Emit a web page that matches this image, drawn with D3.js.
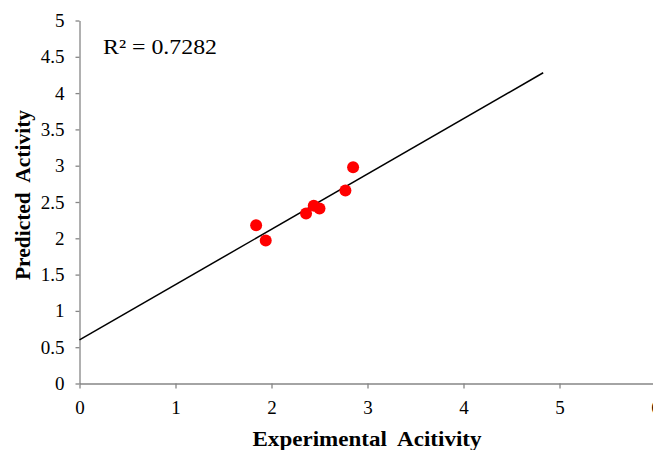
<!DOCTYPE html>
<html><head><meta charset="utf-8">
<script src="https://cdn.jsdelivr.net/npm/d3@7"></script>
<style>body{margin:0;background:#fff}svg{display:block}text{font-family:"Liberation Serif","Times New Roman",serif}</style>
</head><body><svg id="c" width="653" height="450"></svg>
<script>
const expX = [1.84, 1.94, 2.36, 2.44, 2.50, 2.77, 2.85];
const predY = [2.18, 1.97, 2.34, 2.45, 2.41, 2.66, 2.98];
const trendX = [0, 4.83];
const trendY = [0.6, 4.28];
const xTicks = [0, 1, 2, 3, 4, 5, 6];
const yTicks = [0, 0.5, 1, 1.5, 2, 2.5, 3, 3.5, 4, 4.5, 5];
const r2Label = "R² = 0.7282";

const svg = d3.select("#c");
const x = d3.scaleLinear().domain([0, 6]).range([79.5, 655.5]);
const y = d3.scaleLinear().domain([0, 5]).range([383.5, 20.5]);
const gray = "#868686";
const serif = "'Liberation Serif', 'Times New Roman', serif";

const xa = svg.append("g").attr("transform", "translate(0,383.5)")
  .call(d3.axisBottom(x).tickValues(xTicks).tickFormat(d3.format("d")).tickSize(5).tickSizeOuter(0));
const ya = svg.append("g").attr("transform", "translate(79.5,0)")
  .call(d3.axisLeft(y).tickValues(yTicks).tickFormat(d => String(d)).tickSize(4).tickSizeOuter(0).tickPadding(11));
[xa, ya].forEach(g => {
  g.attr("font-family", serif).attr("font-size", 19);
  g.select(".domain").attr("stroke", gray).attr("stroke-width", 1.3);
  g.selectAll(".tick line").attr("stroke", gray).attr("stroke-width", 1.3);
  g.selectAll(".tick text").attr("fill", "#000");
});
xa.selectAll(".tick text").attr("y", 30.5).attr("dy", null);

svg.append("line")
  .attr("x1", x(trendX[0])).attr("y1", y(trendY[0]))
  .attr("x2", x(trendX[1])).attr("y2", y(trendY[1]))
  .attr("stroke", "#000").attr("stroke-width", 1.5);

svg.append("g").selectAll("circle").data(expX).join("circle")
  .attr("cx", d => x(d)).attr("cy", (d, i) => y(predY[i])).attr("r", 6)
  .attr("fill", "#ff0000");

svg.append("text").attr("x", 103).attr("y", 54).attr("font-family", serif).attr("font-size", 22)
  .attr("textLength", 114).attr("lengthAdjust", "spacingAndGlyphs").text(r2Label);

svg.append("text").attr("x", 367).attr("y", 446).attr("text-anchor", "middle")
  .attr("font-family", serif).attr("font-size", 22).attr("font-weight", "bold").style("white-space", "pre")
  .attr("textLength", 229).attr("lengthAdjust", "spacingAndGlyphs")
  .text("Experimental  Acitivity");
svg.append("text").attr("transform", "translate(30,195) rotate(-90)").attr("text-anchor", "middle")
  .attr("font-family", serif).attr("font-size", 22).attr("font-weight", "bold").style("white-space", "pre")
  .attr("textLength", 170).attr("lengthAdjust", "spacingAndGlyphs")
  .text("Predicted  Activity");
</script></body></html>
